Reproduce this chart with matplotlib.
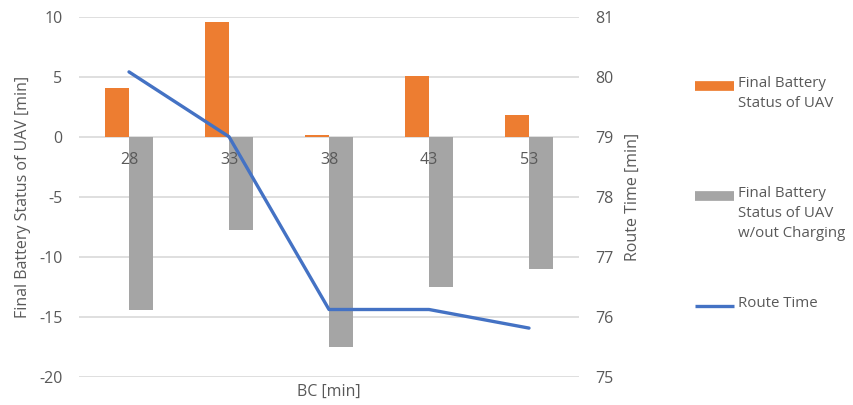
import matplotlib
matplotlib.use('Agg')
import matplotlib.pyplot as plt
from matplotlib.lines import Line2D

plt.rcParams['font.family'] = ['Open Sans', 'DejaVu Sans']
plt.rcParams['axes.unicode_minus'] = False

bc = ['28', '33', '38', '43', '53']
battery = [4.1, 9.6, 0.14, 5.1, 1.8]
battery_no_charge = [-14.4, -7.8, -17.5, -12.5, -11.0]
route_time = [80.08, 79.0, 76.12, 76.12, 75.81]

orange = '#ED7D31'
gray = '#A5A5A5'
blue = '#4472C4'
txt = '#595959'
grid = '#D9D9D9'

fig = plt.figure(figsize=(8.54, 4.05), dpi=100)
ax = fig.add_axes([79 / 854, 1 - 376.7 / 405, 500 / 854, 360 / 405])

x = list(range(len(bc)))
w = 0.24
ax.bar([i - w / 2 for i in x], battery, width=w, color=orange, zorder=2)
ax.bar([i + w / 2 for i in x], battery_no_charge, width=w, color=gray, zorder=2)

ax.set_xlim(-0.5, len(bc) - 0.5)
ax.set_ylim(-20, 10)
ax.set_yticks(range(-20, 11, 5))
ax.grid(axis='y', color=grid, linewidth=1.2)
ax.set_axisbelow(True)
for s in ax.spines.values():
    s.set_visible(False)

# category labels sit just under the zero line, on top of the bars
ax.spines['bottom'].set_position(('data', 0))
ax.xaxis.set_zorder(3)
ax.set_xticks(x)
ax.set_xticklabels(bc)
ax.tick_params(axis='x', length=0, pad=11, labelsize=11.5, labelcolor=txt)
ax.tick_params(axis='y', length=0, pad=12, labelsize=11.5, labelcolor=txt)

ax2 = ax.twinx()
ax2.plot(x, route_time, color=blue, linewidth=2.4, solid_capstyle='round', zorder=3)
ax2.set_ylim(75, 81)
ax2.set_yticks(range(75, 82))
for s in ax2.spines.values():
    s.set_visible(False)
ax2.tick_params(axis='y', length=0, pad=12, labelsize=11.5, labelcolor=txt)

fig.text(329 / 854, 1 - 392 / 405, 'BC [min]', ha='center', va='center', fontsize=11.5, color=txt)
fig.text(23 / 854, 1 - 197 / 405, 'Final Battery Status of UAV [min]', rotation=90,
         ha='center', va='center', fontsize=11.5, color=txt)
fig.text(633 / 854, 1 - 197 / 405, 'Route Time [min]', rotation=90,
         ha='center', va='center', fontsize=11.5, color=txt)

# legend on the right
entries = [
    (orange, 7, 'Final Battery\nStatus of UAV', 86),
    (gray, 7, 'Final Battery\nStatus of UAV\nw/out Charging', 196),
    (blue, 2.4, 'Route Time', 306),
]
for col, lw, label, yc in entries:
    yf = 1 - yc / 405
    fig.add_artist(Line2D([695 / 854, 734 / 854], [yf, yf], color=col, linewidth=lw,
                          solid_capstyle='butt', transform=fig.transFigure))
    fig.text(738 / 854, 1 - (yc - 10) / 405, label, ha='left', va='top', fontsize=10.8,
             color=txt, linespacing=1.45)

fig.savefig('out.png', dpi=100)
